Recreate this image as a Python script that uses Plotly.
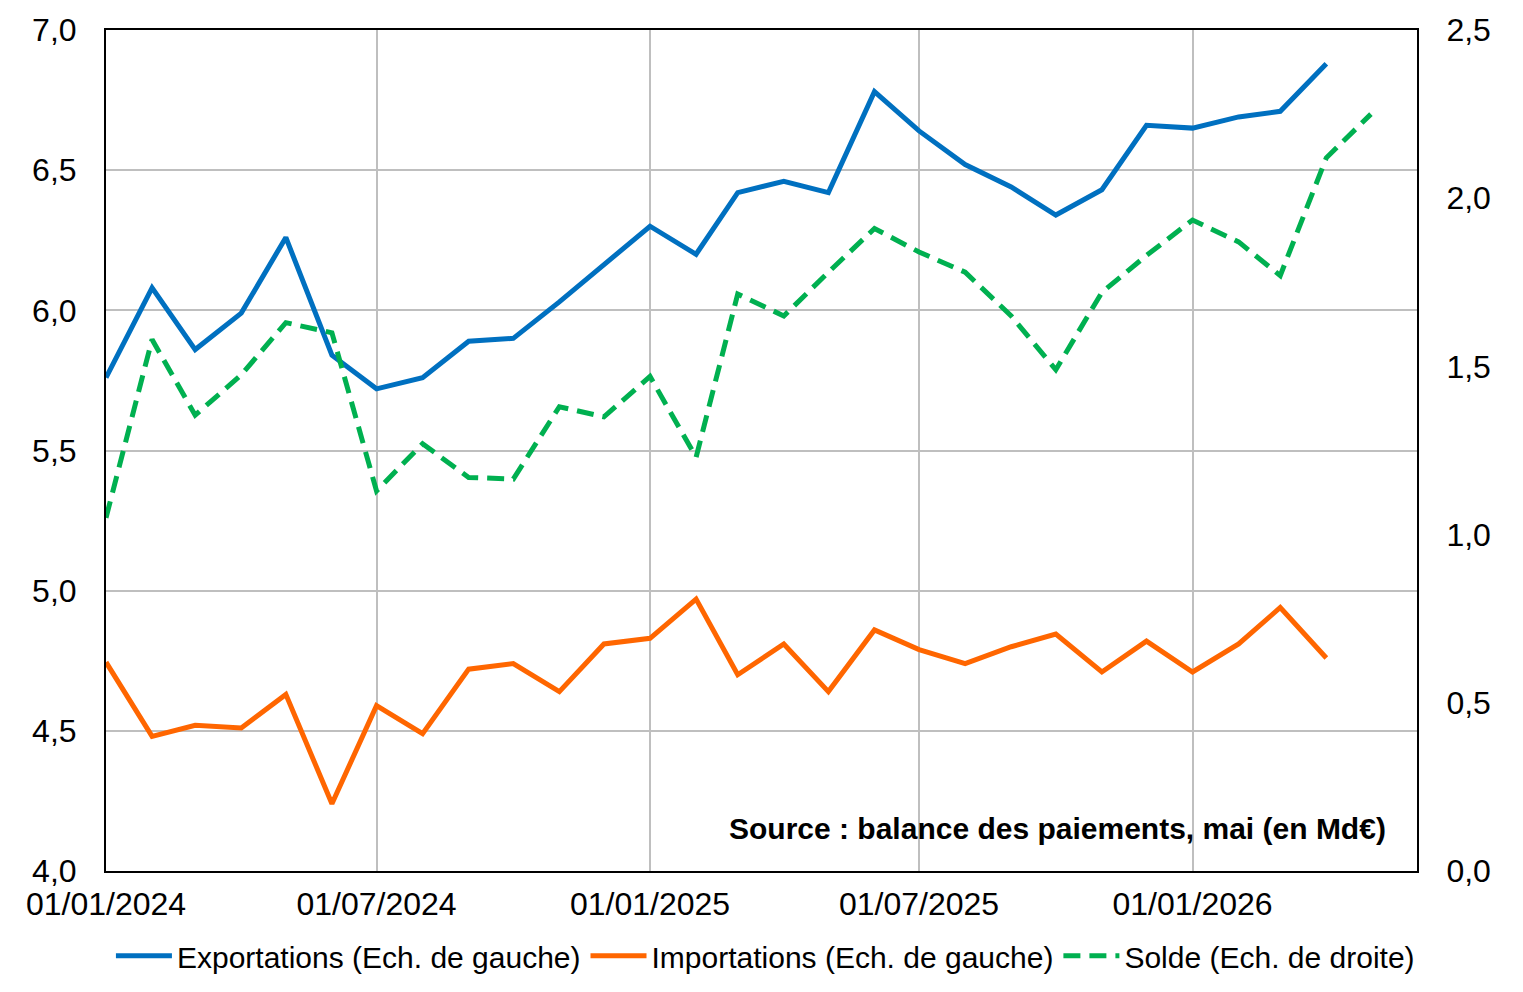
import plotly.graph_objects as go

months = [
    "2024-01-01", "2024-02-01", "2024-03-01", "2024-04-01", "2024-05-01", "2024-06-01",
    "2024-07-01", "2024-08-01", "2024-09-01", "2024-10-01", "2024-11-01", "2024-12-01",
    "2025-01-01", "2025-02-01", "2025-03-01", "2025-04-01", "2025-05-01", "2025-06-01",
    "2025-07-01", "2025-08-01", "2025-09-01", "2025-10-01", "2025-11-01", "2025-12-01",
    "2026-01-01", "2026-02-01", "2026-03-01", "2026-04-01", "2026-05-01",
]

exportations = [5.76, 6.08, 5.86, 5.99, 6.26, 5.84, 5.72, 5.76, 5.89, 5.90, 6.03, 6.165,
                6.30, 6.20, 6.42, 6.46, 6.42, 6.78, 6.64, 6.52, 6.44, 6.34, 6.43, 6.66,
                6.65, 6.69, 6.71, 6.88]

importations = [4.745, 4.48, 4.52, 4.51, 4.63, 4.24, 4.59, 4.49, 4.72, 4.74, 4.64, 4.81,
                4.83, 4.97, 4.70, 4.81, 4.64, 4.86, 4.79, 4.74, 4.80, 4.845, 4.71, 4.82,
                4.71, 4.81, 4.94, 4.76]

solde = [1.05, 1.58, 1.355, 1.475, 1.63, 1.60, 1.13, 1.27, 1.17, 1.165, 1.38, 1.35,
         1.47, 1.23, 1.715, 1.65, 1.78, 1.91, 1.84, 1.78, 1.65, 1.49, 1.72, 1.83,
         1.935, 1.87, 1.77, 2.12, 2.25]

x_ticks = ["2024-01-01", "2024-07-01", "2025-01-01", "2025-07-01", "2026-01-01"]
x_range = ["2024-01-01", "2026-06-01"]

names = ["Exportations (Ech. de gauche)", "Importations (Ech. de gauche)", "Solde (Ech. de droite)"]
source_text = "<b>Source : balance des paiements, mai (en Md€)</b>"

FONT = "Liberation Sans, Arial, sans-serif"

fig = go.Figure()
fig.add_trace(go.Scatter(x=months[:len(exportations)], y=exportations, name=names[0],
                         mode="lines", line=dict(color="#0070C0", width=5), yaxis="y"))
fig.add_trace(go.Scatter(x=months[:len(importations)], y=importations, name=names[1],
                         mode="lines", line=dict(color="#FF6600", width=5), yaxis="y"))
fig.add_trace(go.Scatter(x=months[:len(solde)], y=solde, name=names[2],
                         mode="lines", line=dict(color="#00B050", width=5, dash="17px,9px"),
                         yaxis="y2"))

fig.update_layout(
    width=1523, height=992,
    margin=dict(l=106, r=106, t=30, b=121, autoexpand=False),
    paper_bgcolor="white", plot_bgcolor="white",
    separators=", ",
    font=dict(family=FONT, size=30, color="black"),
    showlegend=True,
    legend=dict(orientation="h", x=0.503, xanchor="center", y=-0.07, yanchor="top",
                itemwidth=56, font=dict(size=30), bgcolor="rgba(0,0,0,0)"),
    xaxis=dict(type="date", range=x_range, tickvals=x_ticks, tickformat="%d/%m/%Y",
               showgrid=True, gridcolor="#BFBFBF", gridwidth=2,
               showline=True, linecolor="black", linewidth=2, mirror=True,
               ticks="outside", ticklen=4, tickcolor="rgba(0,0,0,0)",
               tickfont=dict(size=32), zeroline=False),
    yaxis=dict(range=[4, 7], dtick=0.5, tick0=4, tickformat=".1f",
               showgrid=True, gridcolor="#BFBFBF", gridwidth=2,
               showline=True, linecolor="black", linewidth=2, mirror=True,
               ticks="outside", ticklen=21, tickcolor="rgba(0,0,0,0)",
               tickfont=dict(size=32), zeroline=False),
    yaxis2=dict(range=[0, 2.5], dtick=0.5, tick0=0, tickformat=".1f",
                overlaying="y", side="right", showgrid=False,
                showline=True, linecolor="black", linewidth=2,
                ticks="outside", ticklen=21, tickcolor="rgba(0,0,0,0)",
                tickfont=dict(size=32), zeroline=False),
    annotations=[dict(text=source_text, xref="paper", yref="paper", x=0.978, y=0.05,
                      xanchor="right", yanchor="middle", showarrow=False,
                      font=dict(size=30, color="black"))],
)

fig.write_html("out.html")
